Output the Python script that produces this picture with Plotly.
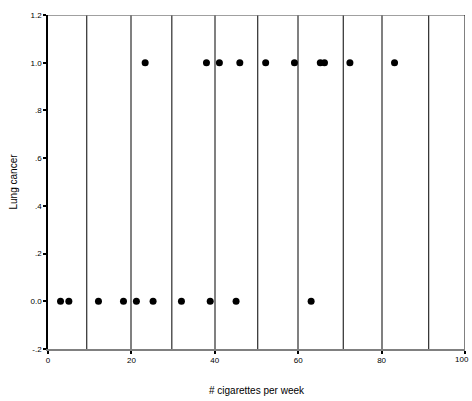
import plotly.graph_objects as go

x0 = [3.0, 5.0, 12.1, 18.1, 21.2, 25.2, 32.0, 38.9, 45.1, 63.1]
x1 = [23.3, 38.0, 41.1, 46.0, 52.2, 59.1, 65.3, 66.3, 72.4, 83.1]
xs = x0 + x1
ys = [0.0] * len(x0) + [1.0] * len(x1)
ref_lines = [9.3, 29.7, 50.3, 70.8, 91.3]
yticks = [-0.2, 0.0, 0.2, 0.4, 0.6, 0.8, 1.0, 1.2]
ytext = ["-.2", "0.0", ".2", ".4", ".6", ".8", "1.0", "1.2"]
xticks = [0, 20, 40, 60, 80, 100]
xtext = ["0", "20", "40", "60", "80", ""]  # last label drawn as annotation so it stays in view

fig = go.Figure()
fig.add_trace(go.Scatter(x=xs, y=ys, mode="markers",
                         marker=dict(symbol="circle", size=7, color="black"),
                         showlegend=False))
shapes = []
for v in ref_lines:
    shapes.append(dict(type="line", xref="x", yref="y", x0=v, x1=v, y0=-0.2, y1=1.2,
                       line=dict(color="black", width=1)))
shapes.append(dict(type="line", xref="x", yref="y", x0=0, x1=100, y0=1.2, y1=1.2,
                   line=dict(color="#808080", width=1.5)))
shapes.append(dict(type="line", xref="x", yref="y", x0=100, x1=100, y0=-0.2, y1=1.2,
                   line=dict(color="black", width=1)))
fig.add_annotation(x=xticks[-1], xref="x", y=0, yref="paper", text=str(xticks[-1]),
                   showarrow=False, yanchor="top", xanchor="center", xshift=-3, yshift=-4,
                   font=dict(size=8, color="black"))
fig.update_layout(
    width=472, height=401,
    margin=dict(l=48, r=7, t=15, b=52),
    paper_bgcolor="white", plot_bgcolor="white",
    font=dict(family="Liberation Sans, Arial, sans-serif", size=8, color="black"),
    shapes=shapes,
    xaxis=dict(range=[0, 100], tickvals=xticks, ticktext=xtext, showgrid=True,
               gridcolor="#808080", gridwidth=1.5,
               zeroline=False, showline=True, linecolor="#808080", linewidth=1.5,
               ticks="outside", ticklen=3, tickcolor="black", tickwidth=2,
               automargin=False, ticklabeloverflow="allow",
               title=dict(text="# cigarettes per week", font=dict(size=10), standoff=23)),
    yaxis=dict(range=[-0.2, 1.2], tickvals=yticks, ticktext=ytext, showgrid=False,
               zeroline=False, showline=True, linecolor="black", linewidth=1.5,
               ticks="outside", ticklen=3, tickcolor="black", tickwidth=2,
               automargin=False, ticklabeloverflow="allow",
               title=dict(text="Lung cancer", font=dict(size=10), standoff=11)),
)
fig.write_html("out.html", config={"displayModeBar": False},
               post_script="document.body.style.margin='0';document.body.style.overflow='hidden';")
